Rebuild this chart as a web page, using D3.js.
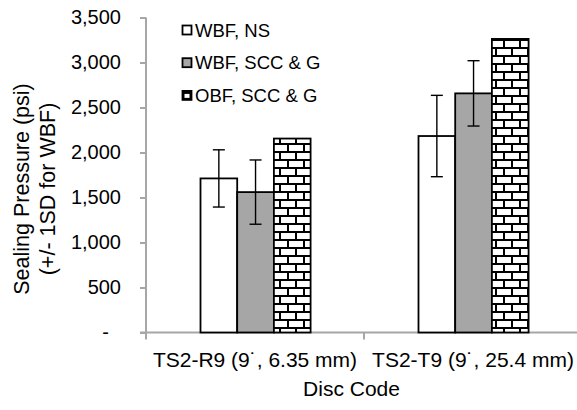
<!DOCTYPE html>
<html>
<head>
<meta charset="utf-8">
<script src="https://cdn.jsdelivr.net/npm/d3@7"></script>
<style>
  html, body { margin: 0; padding: 0; background: #fff; }
  svg { display: block; font-family: "Liberation Sans", Arial, sans-serif; }
</style>
</head>
<body>
<svg id="chart" width="577" height="410"></svg>
<script>
// ---- data ----
const categories = ["TS2-R9 (9˙, 6.35 mm)", "TS2-T9 (9˙, 25.4 mm)"];
const seriesNames = ["WBF, NS", "WBF, SCC & G", "OBF, SCC & G"];
const wbfNS = [1712, 2183];
const wbfNS_sd = [318, 452];
const wbfSCC = [1560, 2657];
const wbfSCC_sd = [357, 363];
const obfSCC = [2155, 3262];
const yTicks = [0, 500, 1000, 1500, 2000, 2500, 3000, 3500];

const seriesValues = [wbfNS, wbfSCC, obfSCC];
const seriesSD = [wbfNS_sd, wbfSCC_sd, null];
const seriesFill = ["#ffffff", "#a6a6a6", "url(#brick)"];

const svg = d3.select("#chart");

// brick pattern
const defs = svg.append("defs");
const pat = defs.append("pattern").attr("id", "brick")
  .attr("patternUnits", "userSpaceOnUse").attr("width", 16).attr("height", 16);
pat.append("rect").attr("width", 16).attr("height", 16).attr("fill", "#000");
[[1, 1, 14, 6], [-7, 9, 14, 6], [9, 9, 14, 6]].forEach(b =>
  pat.append("rect").attr("x", b[0]).attr("y", b[1]).attr("width", b[2]).attr("height", b[3]).attr("fill", "#fff"));
// small legend swatch pattern
const pat2 = defs.append("pattern").attr("id", "brickSmall")
  .attr("patternUnits", "objectBoundingBox").attr("width", 1).attr("height", 1);
pat2.append("rect").attr("width", 9).attr("height", 9).attr("fill", "#000");
pat2.append("rect").attr("x", 2).attr("y", 3).attr("width", 5).attr("height", 4).attr("fill", "#fff");

const mLeft = 146, mRight = 582, mTop = 17.5, mBottom = 332.5;
const axisColor = "#a6a6a6";

const y = d3.scaleLinear().domain([0, 3500]).range([mBottom, mTop]);
const x0 = d3.scaleBand().domain(categories).range([mLeft, mRight]).padding(0);
const bw = x0.bandwidth();
const x1 = d3.scaleBand().domain(seriesNames).range([bw * 0.25, bw * 0.755]).padding(0);

// y axis
const yAxis = svg.append("g").attr("transform", `translate(${mLeft},0)`)
  .call(d3.axisLeft(y).tickValues(yTicks).tickSize(6).tickPadding(19)
    .tickFormat(d => d === 0 ? "-" : d3.format(",")(d)));
yAxis.select(".domain").attr("stroke", axisColor).attr("stroke-width", 2)
  .attr("d", `M0,${mTop}V${mBottom + 7}`);
yAxis.selectAll(".tick line").attr("stroke", axisColor).attr("stroke-width", 2);
yAxis.selectAll(".tick text").attr("font-size", 20).attr("fill", "#000")
  .attr("font-family", "Liberation Sans, Arial, sans-serif")
  .filter(d => d === 0).attr("x", -37);

// x axis
const xAxis = svg.append("g").attr("transform", `translate(0,${mBottom})`)
  .call(d3.axisBottom(x0).tickSize(0).tickPadding(20));
xAxis.select(".domain").attr("stroke", axisColor).attr("stroke-width", 2)
  .attr("d", `M${mLeft - 6},0H${mRight}`);
xAxis.selectAll(".tick text").attr("font-size", 21).attr("fill", "#000")
  .attr("font-family", "Liberation Sans, Arial, sans-serif");
xAxis.selectAll(".boundary").data(categories.slice(1))
  .enter().append("line").attr("class", "boundary")
  .attr("x1", d => x0(d)).attr("x2", d => x0(d)).attr("y1", 0).attr("y2", 7)
  .attr("stroke", axisColor).attr("stroke-width", 2);

// bars
const barsG = svg.append("g");
seriesNames.forEach((s, si) => {
  const g = barsG.append("g");
  g.selectAll("rect").data(categories).enter().append("rect")
    .attr("x", d => x0(d) + x1(s))
    .attr("y", (d, i) => y(seriesValues[si][i]))
    .attr("width", x1.bandwidth())
    .attr("height", (d, i) => y(0) - y(seriesValues[si][i]))
    .attr("fill", seriesFill[si])
    .attr("stroke", "#000").attr("stroke-width", 1.8);
});

// error bars
seriesNames.forEach((s, si) => {
  if (!seriesSD[si]) return;
  const g = barsG.append("g").attr("stroke", "#000").attr("stroke-width", 1.4);
  categories.forEach((c, i) => {
    const cx = x0(c) + x1(s) + x1.bandwidth() / 2;
    const v = seriesValues[si][i], sd = seriesSD[si][i];
    g.append("line").attr("x1", cx).attr("x2", cx).attr("y1", y(v + sd)).attr("y2", y(v - sd));
    g.append("line").attr("x1", cx - 6).attr("x2", cx + 6).attr("y1", y(v + sd)).attr("y2", y(v + sd));
    g.append("line").attr("x1", cx - 6).attr("x2", cx + 6).attr("y1", y(v - sd)).attr("y2", y(v - sd));
  });
});

// legend
const legendFill = ["#ffffff", "#a6a6a6", "url(#brickSmall)"];
const legend = svg.append("g");
seriesNames.forEach((s, i) => {
  const cy = 30 + i * 32.7;
  legend.append("rect").attr("x", 182.5).attr("y", cy - 4.5).attr("width", 9).attr("height", 9)
    .attr("fill", legendFill[i]).attr("stroke", "#000").attr("stroke-width", 1.8);
  legend.append("text").attr("x", 195).attr("y", cy).attr("dy", "0.36em")
    .attr("font-size", 18.5).attr("fill", "#000").text(s);
});

// axis titles
svg.append("text").attr("x", 351.5).attr("y", 396).attr("text-anchor", "middle")
  .attr("font-size", 21).attr("fill", "#000").text("Disc Code");
const yl = svg.append("text").attr("transform", "translate(29,189) rotate(-90)")
  .attr("text-anchor", "middle").attr("font-size", 21.5).attr("fill", "#000");
yl.append("tspan").attr("x", 0).attr("y", 0).text("Sealing Pressure (psi)");
yl.append("tspan").attr("x", 0).attr("y", 26).text("(+/- 1SD for WBF)");
</script>
</body>
</html>
